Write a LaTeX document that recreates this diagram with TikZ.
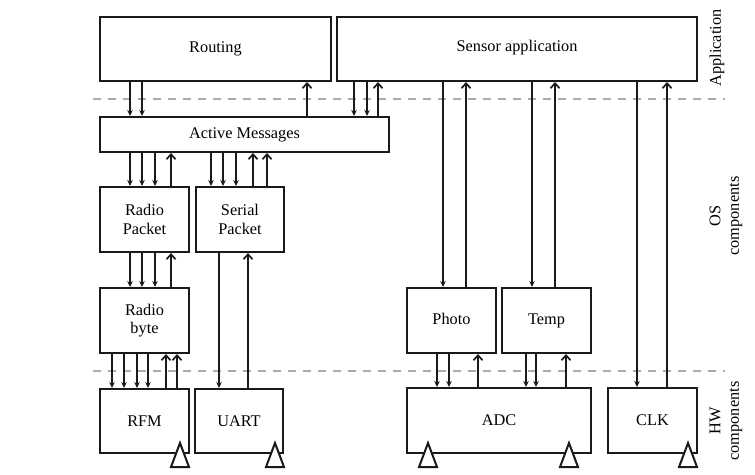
\documentclass[tikz,border=0pt]{standalone}
\usepackage{fontspec}
\setmainfont{Liberation Serif}
\usepackage{tikz}
\usetikzlibrary{arrows.meta}
\usepackage{xcolor}
\definecolor{sepgray}{HTML}{ABABAB}
\definecolor{inkcol}{HTML}{1A1A1A}

% little white triangle hanging under a box
\newcommand{\pintri}[1]{\draw[tri] (#1) ++(-9,13) -- ++(9,-24) -- ++(9,24) -- cycle;}

\begin{document}
\begin{tikzpicture}[x=1pt,y=-1pt,
          font=\fontsize{16.3}{18.5}\selectfont,
          box/.style={draw=inkcol,line width=2pt,align=center,inner sep=0pt},
          cell/.style={box,minimum width=89pt,minimum height=65pt},
          dnarr/.style={draw=inkcol,line width=1.7pt,-{Stealth[length=6pt,width=5.5pt]}},
          uparr/.style={draw=inkcol,line width=1.7pt,-{Straight Barb[length=5pt,width=9pt]}},
          sep/.style={sepgray,line width=2pt,dash pattern=on 8pt off 7pt},
          tri/.style={draw=inkcol,fill=white,line width=2pt,line join=miter},
          layer/.style={rotate=90,align=center}
        ]
        \useasboundingbox (0,0) rectangle (755,474);
        \draw[sep] (93,99)--(725,99);
        \draw[sep] (93,371)--(725,371);
        % application
        \node[box,minimum width=231pt,minimum height=64pt] (routing) at (215.5,49) {Routing};
        \node[box,minimum width=360pt,minimum height=64pt,text depth=7pt] (sensor) at (517,49) {Sensor application};
        % OS components
        \node[box,minimum width=289pt,minimum height=35pt] (am) at (244.5,134.5) {Active Messages};
        \node[cell] (rpkt) at (144.5,219.5) {Radio\\Packet};
        \node[cell,minimum width=88pt] (spkt) at (240,219.5) {Serial\\Packet};
        \node[cell] (rbyte) at (144.5,320.5) {Radio\\byte};
        \node[cell,text height=11pt,text depth=4pt] (photo) at (451.5,320.5) {Photo};
        \node[cell,text height=11pt,text depth=4pt] (temp) at (546.5,320.5) {Temp};
        % HW components
        \node[cell,minimum height=64pt] (rfm) at (144.5,421) {RFM};
        \node[cell,minimum width=88pt,minimum height=64pt] (uart) at (239,421) {UART};
        \node[box,minimum width=184pt,minimum height=65pt] (adc) at (499,420.5) {ADC};
        \node[cell] (clk) at (652.5,420.5) {CLK};
        % layer labels
        \node[layer] (applbl) at (717,48) {Application};
        \node[layer] (oslbl) at (726,216) {OS\\components};
        \node[layer] (hwlbl) at (726,421) {HW\\components};

        \foreach \x in {130,142} \draw[dnarr] (routing.south -| \x,0)--(am.north -| \x,0);
        \draw[uparr] (am.north -| 307,0)--(routing.south -| 307,0);
        \foreach \x in {354,367} \draw[dnarr] (sensor.south -| \x,0)--(am.north -| \x,0);
        \draw[uparr] (am.north -| 378,0)--(sensor.south -| 378,0);

        \foreach \x in {130,142,155} \draw[dnarr] (am.south -| \x,0)--(rpkt.north -| \x,0);
        \draw[uparr] (rpkt.north -| 171,0)--(am.south -| 171,0);
        \foreach \x in {211,223,236} \draw[dnarr] (am.south -| \x,0)--(spkt.north -| \x,0);
        \foreach \x in {253,267} \draw[uparr] (spkt.north -| \x,0)--(am.south -| \x,0);

        \foreach \x in {130,142,155} \draw[dnarr] (rpkt.south -| \x,0)--(rbyte.north -| \x,0);
        \draw[uparr] (rbyte.north -| 171,0)--(rpkt.south -| 171,0);
        \draw[dnarr] (spkt.south -| 219,0)--(uart.north -| 219,0);
        \draw[uparr] (uart.north -| 248,0)--(spkt.south -| 248,0);

        \foreach \x in {112,124,137,148} \draw[dnarr] (rbyte.south -| \x,0)--(rfm.north -| \x,0);
        \foreach \x in {166,177} \draw[uparr] (rfm.north -| \x,0)--(rbyte.south -| \x,0);

        \draw[dnarr] (sensor.south -| 443,0)--(photo.north -| 443,0);
        \draw[uparr] (photo.north -| 466,0)--(sensor.south -| 466,0);
        \draw[dnarr] (sensor.south -| 532,0)--(temp.north -| 532,0);
        \draw[uparr] (temp.north -| 555,0)--(sensor.south -| 555,0);
        \draw[dnarr] (sensor.south -| 637,0)--(clk.north -| 637,0);
        \draw[uparr] (clk.north -| 667,0)--(sensor.south -| 667,0);

        \foreach \x in {437,449} \draw[dnarr] (photo.south -| \x,0)--(adc.north -| \x,0);
        \draw[uparr] (adc.north -| 478,0)--(photo.south -| 478,0);
        \foreach \x in {526,536} \draw[dnarr] (temp.south -| \x,0)--(adc.north -| \x,0);
        \draw[uparr] (adc.north -| 566,0)--(temp.south -| 566,0);

        \pintri{rfm.south -| 180,0}
        \pintri{uart.south -| 275,0}
        \pintri{adc.south -| 428,0}
        \pintri{adc.south -| 569,0}
        \pintri{clk.south -| 688,0}
      \end{tikzpicture}
\end{document}
